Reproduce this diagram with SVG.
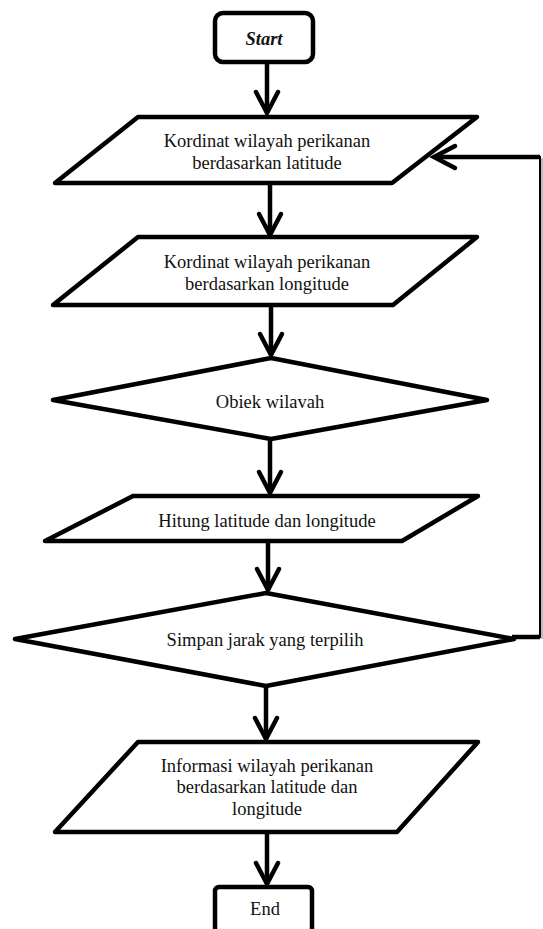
<svg xmlns="http://www.w3.org/2000/svg" width="543" height="929" viewBox="0 0 543 929">
<style>
.shape{fill:#fff;stroke:#000;stroke-width:4.5;stroke-linejoin:round}
.t{font-family:"Liberation Serif","Times New Roman",serif;font-size:18.5px;fill:#111;text-anchor:middle}
.conn{fill:none;stroke:#000;stroke-width:4.5}
.thin{fill:none;stroke:#000;stroke-width:2}
</style>
<defs>
<marker id="ah" markerUnits="userSpaceOnUse" markerWidth="40" markerHeight="40" refX="0" refY="0" orient="auto" overflow="visible">
<path d="M-21,-11 L0,0 L-21,11" fill="none" stroke="#000" stroke-width="4.5" stroke-linecap="round" stroke-linejoin="miter"/>
</marker>
</defs>
<rect width="543" height="929" fill="#fff"/>
<g id="connectors">
<line class="conn" x1="267" y1="62" x2="267" y2="113" marker-end="url(#ah)"/>
<line class="conn" x1="270" y1="183" x2="270" y2="235" marker-end="url(#ah)"/>
<line class="conn" x1="271" y1="305" x2="271" y2="355" marker-end="url(#ah)"/>
<line class="conn" x1="270" y1="439" x2="270" y2="493" marker-end="url(#ah)"/>
<line class="conn" x1="268" y1="541" x2="268" y2="590" marker-end="url(#ah)"/>
<line class="conn" x1="266" y1="686" x2="266" y2="739" marker-end="url(#ah)"/>
<line class="conn" x1="267" y1="832" x2="267" y2="884" marker-end="url(#ah)"/>
<line x1="542" y1="158" x2="542" y2="639" stroke="#bbb" stroke-width="2"/>
<polyline class="conn" points="512,637 540,637"/>
<line class="thin" x1="540" y1="156" x2="540" y2="638"/>
<line class="conn" x1="540" y1="157" x2="434" y2="157" marker-end="url(#ah)"/>
</g>
<g id="start">
<rect class="shape" x="215" y="13" width="98" height="49" rx="8"/>
<text class="t" x="264" y="45" font-weight="bold" font-style="italic">Start</text>
</g>
<g id="latitude">
<polygon class="shape" points="138,117 477,117 392,183 55,183"/>
<text class="t" x="267" y="147">Kordinat wilayah perikanan</text>
<text class="t" x="267" y="169">berdasarkan latitude</text>
</g>
<g id="longitude">
<polygon class="shape" points="138,237 477,237 393,305 53,305"/>
<text class="t" x="267" y="268">Kordinat wilayah perikanan</text>
<text class="t" x="267" y="290">berdasarkan longitude</text>
</g>
<g id="objek">
<polygon class="shape" points="271,358 487,400 271,439 53,400"/>
<text class="t" x="270" y="408">Obiek wilavah</text>
</g>
<g id="hitung">
<polygon class="shape" points="133,496 478,496 402,541 45,541"/>
<text class="t" x="267" y="527">Hitung latitude dan longitude</text>
</g>
<g id="simpan">
<polygon class="shape" points="266,593 514,639 266,686 15,639"/>
<text class="t" x="265" y="646">Simpan jarak yang terpilih</text>
</g>
<g id="informasi">
<polygon class="shape" points="138,742 478,742 397,832 55,832"/>
<text class="t" x="267" y="772">Informasi wilayah perikanan</text>
<text class="t" x="267" y="793">berdasarkan latitude dan</text>
<text class="t" x="267" y="815">longitude</text>
</g>
<g id="end">
<rect class="shape" x="215" y="887" width="97" height="60" rx="4"/>
<text class="t" x="265" y="915">End</text>
</g>
</svg>
